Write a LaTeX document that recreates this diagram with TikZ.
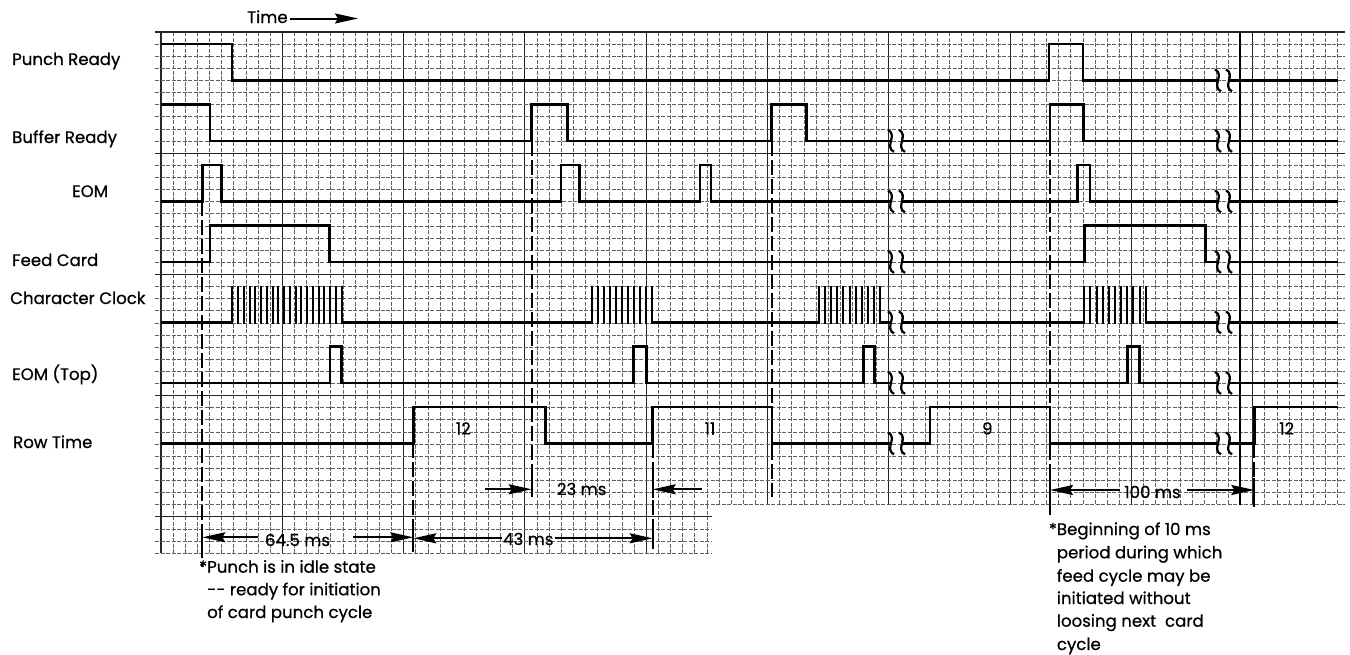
\documentclass[tikz,border=0pt]{standalone}
\usepackage{fontspec}
\setmainfont{Poppins}[FakeBold=0.6]
\usetikzlibrary{arrows.meta}
\begin{document}
\begin{tikzpicture}[x=1pt,y=-1pt,
  sig/.style={line width=2.6pt, line join=miter},
  bar/.style={line width=2pt},
  minor/.style={line width=0.7pt, black!62, dash pattern=on 4pt off 1.5pt},
  major/.style={line width=1.1pt, black!85},
  dmark/.style={line width=2.2pt, dash pattern=on 15pt off 4pt},
  tickbar/.style={line width=2.2pt},
  dim/.style={line width=2pt, -{Stealth[length=23pt,width=10pt,inset=3pt]}},
  lab/.style={anchor=base west, inner sep=0pt, font=\fontsize{16.6}{20}\selectfont},
  num/.style={anchor=base, inner sep=0pt, font=\fontsize{16.6}{20}\selectfont},
  brkline/.style={line width=2.2pt},
  brk/.pic={\draw[brkline] (-3,-11) .. controls (7,-6) and (-7,6) .. (3,11);}
]
\useasboundingbox (0,0) rectangle (1350,654);
\fill[white] (0,0) rectangle (1350,654);

% ---------- grid ----------
\foreach \i in {0,...,97}{
  \pgfmathsetmacro{\xx}{161+\i*12.13}
  \ifnum\i>45 \def\yb{505}\else\def\yb{553.2}\fi
  \pgfmathtruncatemacro{\m}{mod(\i,10)}
  \ifnum\m=0 \draw[major] (\xx,32) -- (\xx,\yb);\else\draw[minor] (\xx,32) -- (\xx,\yb);\fi
}
\foreach \j in {0,...,43}{
  \pgfmathsetmacro{\yy}{32+\j*12.12}
  \ifnum\j>39 \def\xe{712}\else\def\xe{1345}\fi
  \pgfmathtruncatemacro{\m}{mod(\j,10)}
  \ifnum\m=0 \draw[major] (155,\yy) -- (\xe,\yy);\else\draw[minor] (155,\yy) -- (\xe,\yy);\fi
}
\draw[line width=2pt] (1240,32) -- (1240,505);

% ---------- labels ----------
\node[lab] (lpr) at (12,65) {Punch Ready};
\node[lab] (lbr) at (12,143) {Buffer Ready};
\node[lab] (leom) at (72,197) {EOM};
\node[lab] (lfc) at (12,266) {Feed Card};
\node[lab] (lcc) at (10,304) {Character Clock};
\node[lab] (let) at (12,380) {EOM (Top)};
\node[lab] (lrt) at (13,448) {Row Time};

\node[lab] (time) at (247,23) {Time};
\coordinate (timeA) at (290,18.5);
\coordinate (timeB) at (358,18.5);
\draw[dim] (timeA) -- (timeB);

% ---------- signals ----------
% Punch Ready
\draw[sig] (161,44.1) -| (232,80.4) -- (1049,80.4) |- (1083,44.1) |- (1218,80.4);
\draw[sig] (1229,80.4) -- (1338,80.4);
% Buffer Ready
\draw[sig] (161,104.6) -| (210,140.9) -| (531.7,104.6) -| (567.3,140.9) -| (771.7,104.6) -| (806.7,140.9) -- (891,140.9);
\draw[sig] (902,140.9) -| (1050,104.6) -| (1083.3,140.9) -- (1218,140.9);
\draw[sig] (1229,140.9) -- (1338,140.9);
% EOM
\draw[sig] (161,201.4) -| (202.3,165.1) -| (221.7,201.4) -| (561,165.1) -| (579.3,201.4) -| (700,165.1) -| (711,201.4) -- (891,201.4);
\draw[sig] (902,201.4) -| (1077.3,165.1) -| (1090,201.4) -- (1218,201.4);
\draw[sig] (1229,201.4) -- (1338,201.4);
% Feed Card
\draw[sig] (161,261.9) -| (210,225.6) -| (329.3,261.9) -- (891,261.9);
\draw[sig] (902,261.9) -| (1084.3,225.6) -| (1205.7,261.9) -- (1218,261.9);
\draw[sig] (1229,261.9) -- (1338,261.9);
% Character Clock
\draw[sig] (161,322.4) -- (232.3,322.4);
\draw[sig] (341.7,322.4) -- (591.7,322.4);
\draw[sig] (652.3,322.4) -- (819,322.4);
\draw[sig] (880,322.4) -- (891,322.4);
\draw[sig] (902,322.4) -- (1084.3,322.4);
\draw[sig] (1145.7,322.4) -- (1218,322.4);
\draw[sig] (1229,322.4) -- (1338,322.4);
\foreach \k in {0,...,19}{\draw[bar] ({232.3+\k*5.758},323.6) -- ({232.3+\k*5.758},286.1);}
\foreach \k in {0,...,10}{\draw[bar] ({591.7+\k*6.06},323.6) -- ({591.7+\k*6.06},286.1);}
\foreach \k in {0,...,10}{\draw[bar] ({819+\k*6.1},323.6) -- ({819+\k*6.1},286.1);}
\foreach \k in {0,...,10}{\draw[bar] ({1084.3+\k*6.14},323.6) -- ({1084.3+\k*6.14},286.1);}
% EOM (Top)
\draw[sig] (161,382.9) -| (330,346.6) -| (341.7,382.9) -| (633.3,346.6) -| (646.7,382.9) -| (863.3,346.6) -| (874.3,382.9) -- (891,382.9);
\draw[sig] (902,382.9) -| (1127.7,346.6) -| (1139.3,382.9) -- (1218,382.9);
\draw[sig] (1229,382.9) -- (1338,382.9);
% Row Time
\draw[sig] (161,443.4) -| (413.3,407.1) -| (545.7,443.4) -| (652.7,407.1) -| (772,443.4) -- (891,443.4);
\draw[sig] (902,443.4) -| (930,407.1) -| (1050,443.4) -- (1218,443.4);
\draw[sig] (1229,443.4) -| (1254.3,407.1) -- (1338,407.1);

% ---------- breaks ----------
\foreach \yy in {140.9,201.4,261.9,322.4,382.9,443.4}{
  \pic at (891,\yy) {brk};
  \pic at (902,\yy) {brk};
}
\foreach \yy in {80.4,140.9,201.4,261.9,322.4,382.9,443.4}{
  \pic at (1218,\yy) {brk};
  \pic at (1229,\yy) {brk};
}

% ---------- row numbers ----------
\node[num] (r12a) at (463.3,434.5) {12};
\node[num] (r11) at (710,434.5) {11};
\node[num] (r9) at (987.3,434.5) {9};
\node[num] (r12b) at (1286.7,434.5) {12};

% ---------- dashed markers ----------
\draw[dmark] (202.3,201.4) -- (202.3,567);
\draw[dmark] (413.3,443.4) -- (413.3,552);
\draw[dmark] (531.7,140.9) -- (531.7,497);
\draw[dmark] (652.7,443.4) -- (652.7,548);
\draw[dmark] (771.7,140.9) -- (771.7,497);
\draw[dmark] (1050,140.9) -- (1050,515);
\draw[dmark] (1254.3,443.4) -- (1254.3,507);
\draw[tickbar] (202.3,527) -- (202.3,549);
\draw[tickbar] (413.3,527) -- (413.3,549);
\draw[tickbar] (652.7,527) -- (652.7,549);
\draw[tickbar] (531.7,479) -- (531.7,497);
\draw[tickbar] (652.7,477) -- (652.7,498);
\draw[tickbar] (1050,476) -- (1050,506);
\draw[tickbar] (1254.3,478) -- (1254.3,505);

% ---------- dimensions ----------
\node[num] (d645) at (297.5,546) {64.5 ms};
\coordinate (d645l) at (258,537.3);
\coordinate (d645r) at (353,537.3);
\coordinate (m1a) at (202.3,537.3);
\coordinate (m2a) at (413.3,537.3);
\draw[dim] (d645l) -- (m1a);
\draw[dim] (d645r) -- (m2a);

\node[num] (d43) at (528.3,545) {43 ms};
\coordinate (d43l) at (501.7,538.3);
\coordinate (d43r) at (555,538.3);
\coordinate (m2b) at (413.3,538.3);
\coordinate (m4b) at (652.7,538.3);
\draw[dim] (d43l) -- (m2b);
\draw[dim] (d43r) -- (m4b);

\node[num] (d23) at (581.7,495) {23 ms};
\coordinate (d23l) at (485,489.3);
\coordinate (d23r) at (701.7,489.3);
\coordinate (m3c) at (531.7,489.3);
\coordinate (m4c) at (652.7,489.3);
\draw[dim] (d23l) -- (m3c);
\draw[dim] (d23r) -- (m4c);

\node[num] (d100) at (1152.5,498) {100 ms};
\coordinate (d100l) at (1120,490);
\coordinate (d100r) at (1187,490);
\coordinate (m6d) at (1050,490);
\coordinate (m7d) at (1254.3,490);
\draw[dim] (d100l) -- (m6d);
\draw[dim] (d100r) -- (m7d);

% ---------- notes ----------
\node[lab] (n1a) at (207,572.7) {\llap{*}Punch is in idle state};
\node[lab] (n1b) at (207,595.3) {-{}- ready for initiation};
\node[lab] (n1c) at (207,618) {of card punch cycle};

\node[lab] (n2a) at (1056.7,535) {\llap{*}Beginning of 10 ms};
\node[lab] (n2b) at (1056.7,558.3) {period during which};
\node[lab] (n2c) at (1056.7,581.7) {feed cycle may be};
\node[lab] (n2d) at (1056.7,604) {initiated without};
\node[lab] (n2e) at (1056.7,626.7) {loosing next\ \ card};
\node[lab] (n2f) at (1056.7,650) {cycle};
\end{tikzpicture}
\end{document}
